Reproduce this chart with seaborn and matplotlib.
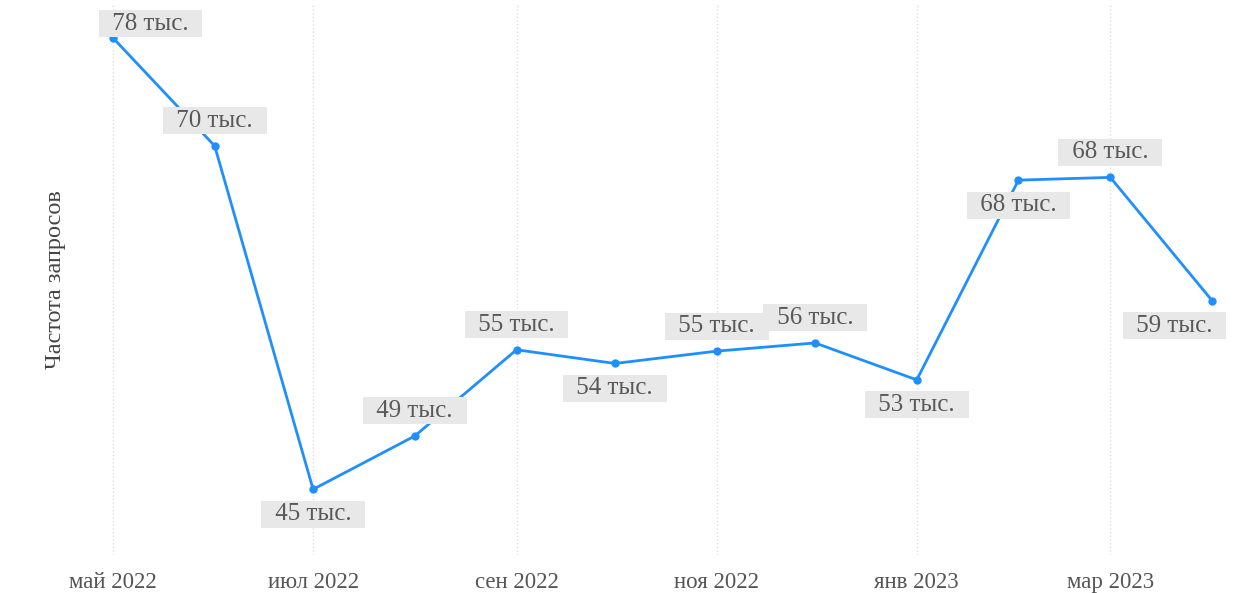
import matplotlib
matplotlib.use("Agg")
import matplotlib.pyplot as plt
import pandas as pd
import seaborn as sns

# monthly search frequency, thousands
months = pd.date_range("2022-05-01", "2023-04-01", freq="MS")
requests_k = [78.0, 70.1, 45.0, 48.9, 55.2, 54.2, 55.1, 55.7, 53.0, 67.6, 67.8, 58.8]

tick_dates = pd.to_datetime(["2022-05-01", "2022-07-01", "2022-09-01",
                             "2022-11-01", "2023-01-01", "2023-03-01"])
tick_labels = ["май 2022", "июл 2022", "сен 2022", "ноя 2022", "янв 2023", "мар 2023"]

y_title = "Частота запросов"


def show():
    sns.set_style("white")
    plt.rcParams["font.family"] = ["Liberation Serif", "DejaVu Serif"]

    fig = plt.figure(figsize=(12.5, 5.93), dpi=100)
    ax = fig.add_axes([90 / 1250, 38 / 593, 1145 / 1250, 550 / 593])

    sns.lineplot(x=months, y=requests_k, ax=ax, color="#1f8fff", linewidth=2,
                 marker="o", markersize=6, markeredgewidth=0)

    ax.set_xlim(months[0] - pd.Timedelta(days=7), months[-1] + pd.Timedelta(days=7))
    ax.set_ylim(40.2, 80.4)

    # labels above (+1) or below (-1) the point
    sides = [1, 1, -1, 1, 1, -1, 1, 1, -1, -1, 1, -1]
    for i, (d, v) in enumerate(zip(months, requests_k)):
        dx, dy = 0, sides[i] * 18
        if i == 0:
            dx, dy = 27, 10
        elif i == len(months) - 1:
            dx = -27
        ax.annotate(f" \u2009{round(v)} тыс.\u2009 ", (d, v), xytext=(dx, dy),
                    textcoords="offset points", ha="center", va="center",
                    fontsize=18, color="#595959",
                    bbox=dict(boxstyle="square,pad=0.1", fc="#e8e8e8", ec="none"))

    ax.set_xticks(tick_dates, tick_labels)
    ax.set_yticks([])
    ax.tick_params(axis="x", length=0, pad=12, labelsize=16.5, labelcolor="#555555")
    ax.grid(axis="x", linestyle=":", color="#dedede", linewidth=1)
    ax.set_xlabel("")
    ax.set_ylabel(y_title, fontsize=17.5, color="#444444", labelpad=17)
    sns.despine(ax=ax, left=True, bottom=True)

    fig.savefig("out.png", dpi=100)


if __name__ == "__main__":
    show()
